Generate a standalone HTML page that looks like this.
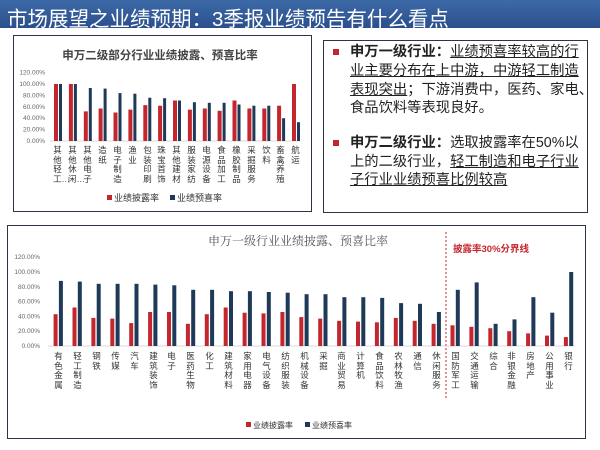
<!DOCTYPE html>
<html><head><meta charset="utf-8"><style>
body{margin:0;width:600px;height:450px;overflow:hidden;background:#fff;font-family:"Liberation Sans","Noto Sans CJK SC",sans-serif;position:relative}
.bar{position:absolute;left:0;top:0;width:600px;height:28px;background:linear-gradient(#3d6aa8,#2a4f8c);}
.bar span{position:absolute;left:7px;top:2px;color:#fff;font-size:20.5px;white-space:nowrap}
.v{position:absolute;width:9px;font-size:8.5px;line-height:9.5px;color:#333;word-break:break-all;text-align:center}
.box{position:absolute;border:1.5px solid #2b3545}
.t{position:absolute;font-size:14.3px;color:#222;white-space:nowrap;line-height:18px}
.t u{text-decoration:underline}
.sq{position:absolute;width:6px;height:6px;background:#c4262e}
</style></head><body>
<div class="bar"><span>市场展望之业绩预期：3季报业绩预告有什么看点</span></div>
<div class="box" style="left:13px;top:35px;width:297px;height:175px"></div>
<div class="box" style="left:323px;top:40px;width:263px;height:171px"></div>
<div class="box" style="left:7px;top:225px;width:577px;height:212px"></div>

<div class="sq" style="left:333px;top:49px"></div>
<div class="t" style="left:350px;top:43px"><b>申万一级行业：</b><u>业绩预喜率较高的行</u></div>
<div class="t" style="left:350px;top:62px"><u>业主要分布在上中游，中游轻工制造</u></div>
<div class="t" style="left:350px;top:81px"><u>表现突出</u>；下游消费中，医药、家电、</div>
<div class="t" style="left:350px;top:99px">食品饮料等表现良好。</div>
<div class="sq" style="left:333px;top:140px"></div>
<div class="t" style="left:350px;top:134px"><b>申万二级行业：</b>选取披露率在50%以</div>
<div class="t" style="left:350px;top:153px">上的二级行业，<u>轻工制造和电子行业</u></div>
<div class="t" style="left:350px;top:171px"><u>子行业业绩预喜比例较高</u></div>

<svg width="600" height="450" style="position:absolute;left:0;top:0" font-family="Liberation Sans, Noto Sans CJK SC, sans-serif">
<text x="160" y="59" text-anchor="middle" font-size="11.5" font-weight="bold" fill="#444">申万二级部分行业业绩披露、预喜比率</text>
<g font-size="6.5" fill="#666" text-anchor="end">
<text x="45" y="143">0.00%</text><text x="45" y="131.6">20.00%</text><text x="45" y="120.2">40.00%</text><text x="45" y="108.8">60.00%</text><text x="45" y="97.4">80.00%</text><text x="45" y="86">100.00%</text><text x="45" y="74.6">120.00%</text>
</g>
<line x1="50" y1="141" x2="300" y2="141" stroke="#ccc" stroke-width="0.8"/>
<g fill="#c4262e">
<rect x="54" y="84" width="4" height="57"/><rect x="68.9" y="84" width="4" height="57"/><rect x="83.8" y="111.4" width="4" height="29.6"/><rect x="98.6" y="108.5" width="4" height="32.5"/><rect x="113.5" y="112.5" width="4" height="28.5"/><rect x="128.4" y="109.6" width="4" height="31.4"/><rect x="143.3" y="105.1" width="4" height="35.9"/><rect x="158.1" y="105.7" width="4" height="35.3"/><rect x="173" y="100.5" width="4" height="40.5"/><rect x="187.9" y="109.6" width="4" height="31.4"/><rect x="202.8" y="108.5" width="4" height="32.5"/><rect x="217.6" y="110.8" width="4" height="30.2"/><rect x="232.5" y="100.5" width="4" height="40.5"/><rect x="247.4" y="108.5" width="4" height="32.5"/><rect x="262.3" y="108.5" width="4" height="32.5"/><rect x="277.1" y="105.7" width="4" height="35.3"/><rect x="292" y="84" width="4" height="57"/>
</g>
<g fill="#1f3a58">
<rect x="59" y="84" width="3" height="57"/><rect x="73.9" y="84" width="3" height="57"/><rect x="88.8" y="88" width="3" height="53"/><rect x="103.6" y="88.6" width="3" height="52.4"/><rect x="118.5" y="93.1" width="3" height="47.9"/><rect x="133.4" y="93.7" width="3" height="47.3"/><rect x="148.3" y="97.7" width="3" height="43.3"/><rect x="163.1" y="98.2" width="3" height="42.8"/><rect x="178" y="100.5" width="3" height="40.5"/><rect x="192.9" y="102.2" width="3" height="38.8"/><rect x="207.8" y="102.8" width="3" height="38.2"/><rect x="222.6" y="102.8" width="3" height="38.2"/><rect x="237.5" y="104.5" width="3" height="36.5"/><rect x="252.4" y="105.7" width="3" height="35.3"/><rect x="267.3" y="105.7" width="3" height="35.3"/><rect x="282.1" y="118.2" width="3" height="22.8"/><rect x="297" y="122.2" width="3" height="18.8"/>
</g>
<rect x="107" y="195" width="5" height="5" fill="#c4262e"/><text x="114" y="201" font-size="9" fill="#333">业绩披露率</text>
<rect x="170" y="195" width="5" height="5" fill="#1f3a58"/><text x="177" y="201" font-size="9" fill="#333">业绩预喜率</text>

<text x="298" y="245" text-anchor="middle" font-size="12" fill="#555" font-family="Liberation Serif, Noto Serif CJK SC, serif">申万一级行业业绩披露、预喜比率</text>
<text x="453" y="252" font-size="9.5" font-weight="bold" fill="#c4262e">披露率30%分界线</text>
<line x1="446" y1="232" x2="446" y2="398" stroke="#c4262e" stroke-width="1" stroke-dasharray="2,2"/>
<g font-size="6.5" fill="#666" text-anchor="end">
<text x="40" y="348">0.00%</text><text x="40" y="333.2">20.00%</text><text x="40" y="318.4">40.00%</text><text x="40" y="303.6">60.00%</text><text x="40" y="288.8">80.00%</text><text x="40" y="274">100.00%</text><text x="40" y="259.2">120.00%</text>
</g>
<line x1="48" y1="346" x2="575" y2="346" stroke="#ccc" stroke-width="0.8"/>
<g fill="#c4262e">
<rect x="53.6" y="314.2" width="4" height="31.8"/><rect x="72.5" y="307.5" width="4" height="38.5"/><rect x="91.4" y="317.9" width="4" height="28.1"/><rect x="110.3" y="318.6" width="4" height="27.4"/><rect x="129.2" y="323.1" width="4" height="22.9"/><rect x="148.1" y="312" width="4" height="34"/><rect x="167" y="312" width="4" height="34"/><rect x="185.9" y="323.8" width="4" height="22.2"/><rect x="204.8" y="314.2" width="4" height="31.8"/><rect x="223.7" y="307.5" width="4" height="38.5"/><rect x="242.6" y="312.7" width="4" height="33.3"/><rect x="261.5" y="313.4" width="4" height="32.6"/><rect x="280.4" y="312" width="4" height="34"/><rect x="299.3" y="317.1" width="4" height="28.9"/><rect x="318.2" y="318.6" width="4" height="27.4"/><rect x="337.1" y="320.8" width="4" height="25.2"/><rect x="356" y="321.6" width="4" height="24.4"/><rect x="374.9" y="322.3" width="4" height="23.7"/><rect x="393.8" y="317.9" width="4" height="28.1"/><rect x="412.7" y="320.8" width="4" height="25.2"/><rect x="431.6" y="323.8" width="4" height="22.2"/><rect x="450.5" y="325.3" width="4" height="20.7"/><rect x="469.4" y="326.8" width="4" height="19.2"/><rect x="488.3" y="328.2" width="4" height="17.8"/><rect x="507.2" y="331.2" width="4" height="14.8"/><rect x="526.1" y="333.4" width="4" height="12.6"/><rect x="545" y="335.6" width="4" height="10.4"/><rect x="563.9" y="337.1" width="4" height="8.9"/>
</g>
<g fill="#1f3a58">
<rect x="58.9" y="280.9" width="4" height="65.1"/><rect x="77.8" y="281.6" width="4" height="64.4"/><rect x="96.7" y="283.8" width="4" height="62.2"/><rect x="115.6" y="283.8" width="4" height="62.2"/><rect x="134.5" y="283.8" width="4" height="62.2"/><rect x="153.4" y="284.6" width="4" height="61.4"/><rect x="172.3" y="285.3" width="4" height="60.7"/><rect x="191.2" y="289.8" width="4" height="56.2"/><rect x="210.1" y="289.8" width="4" height="56.2"/><rect x="229" y="291.2" width="4" height="54.8"/><rect x="247.9" y="291.2" width="4" height="54.8"/><rect x="266.8" y="292" width="4" height="54"/><rect x="285.7" y="292.7" width="4" height="53.3"/><rect x="304.6" y="294.2" width="4" height="51.8"/><rect x="323.5" y="294.2" width="4" height="51.8"/><rect x="342.4" y="297.2" width="4" height="48.8"/><rect x="361.3" y="297.2" width="4" height="48.8"/><rect x="380.2" y="297.9" width="4" height="48.1"/><rect x="399.1" y="303.1" width="4" height="42.9"/><rect x="418" y="303.8" width="4" height="42.2"/><rect x="436.9" y="312" width="4" height="34"/><rect x="455.8" y="289.8" width="4" height="56.2"/><rect x="474.7" y="282.4" width="4" height="63.6"/><rect x="493.6" y="323.8" width="4" height="22.2"/><rect x="512.5" y="319.4" width="4" height="26.6"/><rect x="531.4" y="297.2" width="4" height="48.8"/><rect x="550.3" y="312.7" width="4" height="33.3"/><rect x="569.2" y="272" width="4" height="74"/>
</g>
<rect x="246" y="422" width="5" height="5" fill="#c4262e"/><text x="253" y="428" font-size="8" fill="#333">业绩披露率</text>
<rect x="305" y="422" width="5" height="5" fill="#1f3a58"/><text x="312" y="428" font-size="8" fill="#333">业绩预喜率</text>
</svg>

<div class="v" style="left:53px;top:146px">其他轻工…</div>
<div class="v" style="left:68px;top:146px">其他休闲…</div>
<div class="v" style="left:83px;top:146px">其他电子</div>
<div class="v" style="left:98px;top:146px">造纸</div>
<div class="v" style="left:113px;top:146px">电子制造</div>
<div class="v" style="left:128px;top:146px">渔业</div>
<div class="v" style="left:143px;top:146px">包装印刷</div>
<div class="v" style="left:157px;top:146px">珠宝首饰</div>
<div class="v" style="left:172px;top:146px">其他建材</div>
<div class="v" style="left:187px;top:146px">服装家纺</div>
<div class="v" style="left:202px;top:146px">电源设备</div>
<div class="v" style="left:217px;top:146px">食品加工</div>
<div class="v" style="left:232px;top:146px">橡胶制品</div>
<div class="v" style="left:247px;top:146px">采掘服务</div>
<div class="v" style="left:262px;top:146px">饮料</div>
<div class="v" style="left:276px;top:146px">畜禽养殖</div>
<div class="v" style="left:291px;top:146px">航运</div>

<div class="v" style="left:54px;top:352px">有色金属</div>
<div class="v" style="left:73px;top:352px">轻工制造</div>
<div class="v" style="left:92px;top:352px">钢铁</div>
<div class="v" style="left:111px;top:352px">传媒</div>
<div class="v" style="left:130px;top:352px">汽车</div>
<div class="v" style="left:149px;top:352px">建筑装饰</div>
<div class="v" style="left:167px;top:352px">电子</div>
<div class="v" style="left:186px;top:352px">医药生物</div>
<div class="v" style="left:205px;top:352px">化工</div>
<div class="v" style="left:224px;top:352px">建筑材料</div>
<div class="v" style="left:243px;top:352px">家用电器</div>
<div class="v" style="left:262px;top:352px">电气设备</div>
<div class="v" style="left:281px;top:352px">纺织服装</div>
<div class="v" style="left:300px;top:352px">机械设备</div>
<div class="v" style="left:319px;top:352px">采掘</div>
<div class="v" style="left:337px;top:352px">商业贸易</div>
<div class="v" style="left:356px;top:352px">计算机</div>
<div class="v" style="left:375px;top:352px">食品饮料</div>
<div class="v" style="left:394px;top:352px">农林牧渔</div>
<div class="v" style="left:413px;top:352px">通信</div>
<div class="v" style="left:432px;top:352px">休闲服务</div>
<div class="v" style="left:451px;top:352px">国防军工</div>
<div class="v" style="left:470px;top:352px">交通运输</div>
<div class="v" style="left:489px;top:352px">综合</div>
<div class="v" style="left:507px;top:352px">非银金融</div>
<div class="v" style="left:526px;top:352px">房地产</div>
<div class="v" style="left:545px;top:352px">公用事业</div>
<div class="v" style="left:564px;top:352px">银行</div>
</body></html>
